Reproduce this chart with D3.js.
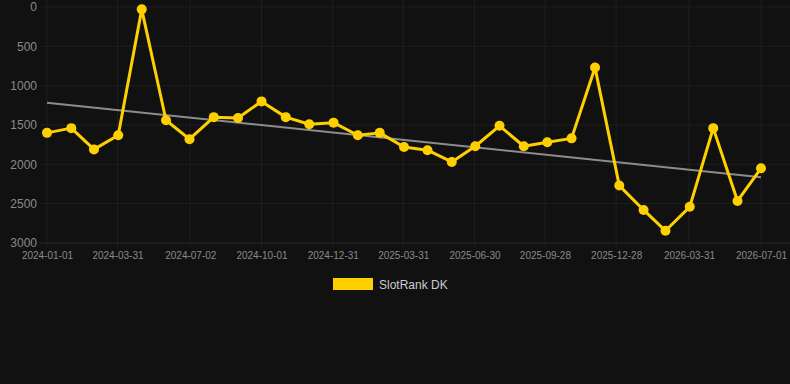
<!DOCTYPE html>
<html>
<head>
<meta charset="utf-8">
<script src="https://cdn.jsdelivr.net/npm/d3@7"></script>
<style>
  html, body { margin: 0; padding: 0; background: #111111; }
  svg { display: block; font-family: "Liberation Sans", Arial, sans-serif; }
</style>
</head>
<body>
<script>
  "use strict";

  /* monthly points, 2024-01 .. 2026-07 */
  var months = ["2024-01-01","2024-02-01","2024-03-01","2024-04-01","2024-05-01","2024-06-01",
                "2024-07-01","2024-08-01","2024-09-01","2024-10-01","2024-11-01","2024-12-01",
                "2025-01-01","2025-02-01","2025-03-01","2025-04-01","2025-05-01","2025-06-01",
                "2025-07-01","2025-08-01","2025-09-01","2025-10-01","2025-11-01","2025-12-01",
                "2026-01-01","2026-02-01","2026-03-01","2026-04-01","2026-05-01","2026-06-01",
                "2026-07-01"];
  var ranks = [1600, 1540, 1810, 1630, 30, 1440,
               1680, 1400, 1410, 1200, 1400, 1490,
               1470, 1630, 1600, 1780, 1820, 1970,
               1770, 1510, 1770, 1720, 1670, 770,
               2270, 2580, 2845, 2540, 1540, 2465,
               2050];
  var xTicks = ["2024-01-01","2024-03-31","2024-07-02","2024-10-01","2024-12-31","2025-03-31",
                "2025-06-30","2025-09-28","2025-12-28","2026-03-31","2026-07-01"];
  var yTicks = [0, 500, 1000, 1500, 2000, 2500, 3000];
  var seriesName = "SlotRank DK";

  var width = 790, height = 384;
  var parse = d3.utcParse("%Y-%m-%d");

  var data = months.map(function (m, i) { return { date: parse(m), value: ranks[i] }; });

  var svg = d3.select("body")
    .append("svg")
      .attr("width", width)
      .attr("height", height);

  var x = d3.scaleUtc()
    .domain([parse("2024-01-01"), parse("2026-07-01")])
    .range([47, 761]);
  var y = d3.scaleLinear()
    .domain([0, 3000])
    .range([7, 243]);

  /* grid */
  var grid = svg.append("g").attr("class", "grid");
  grid.selectAll("line.h")
    .data(yTicks)
    .enter()
    .append("line")
      .attr("x1", 40).attr("x2", width)
      .attr("y1", function (d) { return y(d); })
      .attr("y2", function (d) { return y(d); })
      .attr("stroke", function (d) { return d === 3000 ? "#2a2a2a" : "#1f1f1f"; })
      .attr("stroke-width", 1);
  grid.selectAll("line.v")
    .data(xTicks)
    .enter()
    .append("line")
      .attr("x1", function (d) { return x(parse(d)); })
      .attr("x2", function (d) { return x(parse(d)); })
      .attr("y1", 0).attr("y2", 248)
      .attr("stroke", "#1f1f1f")
      .attr("stroke-width", 1);

  /* axes (labels only) */
  var yAxis = svg.append("g")
    .attr("transform", "translate(37,0)")
    .call(d3.axisLeft(y).tickValues(yTicks).tickFormat(d3.format("d")).tickSize(0).tickPadding(0));
  yAxis.select(".domain").remove();
  yAxis.selectAll("text")
    .attr("fill", "#8a8a8a")
    .style("font-size", "12px")
    .style("font-family", "\"Liberation Sans\", Arial, sans-serif");

  var xAxis = svg.append("g")
    .attr("transform", "translate(0,252)")
    .call(d3.axisBottom(x)
      .tickValues(xTicks.map(parse))
      .tickFormat(d3.utcFormat("%Y-%m-%d"))
      .tickSize(0).tickPadding(0));
  xAxis.select(".domain").remove();
  xAxis.selectAll("text")
    .attr("fill", "#8a8a8a")
    .style("font-size", "10px")
    .style("font-family", "\"Liberation Sans\", Arial, sans-serif");

  /* trend line (least squares over the series) */
  var xs = data.map(function (d) { return +d.date; });
  var ys = data.map(function (d) { return d.value; });
  var mx = d3.mean(xs), my = d3.mean(ys);
  var slope = d3.sum(xs, function (v, i) { return (v - mx) * (ys[i] - my); }) /
              d3.sum(xs, function (v) { return (v - mx) * (v - mx); });
  var icpt = my - slope * mx;
  var x0 = xs[0], x1 = xs[xs.length - 1];
  svg.append("line")
    .attr("x1", x(new Date(x0))).attr("y1", y(icpt + slope * x0))
    .attr("x2", x(new Date(x1))).attr("y2", y(icpt + slope * x1))
    .attr("stroke", "#8c8c8c")
    .attr("stroke-width", 2);

  /* series */
  var line = d3.line()
    .x(function (d) { return x(d.date); })
    .y(function (d) { return y(d.value); });
  svg.append("path")
    .datum(data)
    .attr("d", line)
    .attr("fill", "none")
    .attr("stroke", "#ffd000")
    .attr("stroke-width", 3)
    .attr("stroke-linejoin", "round");
  svg.selectAll("circle.pt")
    .data(data)
    .enter()
    .append("circle")
      .attr("class", "pt")
      .attr("cx", function (d) { return x(d.date); })
      .attr("cy", function (d) { return y(d.value); })
      .attr("r", 5)
      .attr("fill", "#ffd000");

  /* legend */
  var legend = svg.append("g").attr("transform", "translate(333,278)");
  legend.append("rect")
    .attr("width", 40).attr("height", 12)
    .attr("fill", "#ffd000");
  legend.append("text")
    .attr("x", 46).attr("y", 10.5)
    .attr("fill", "#cccccc")
    .style("font-size", "12px")
    .text(seriesName);
</script>
</body>
</html>
